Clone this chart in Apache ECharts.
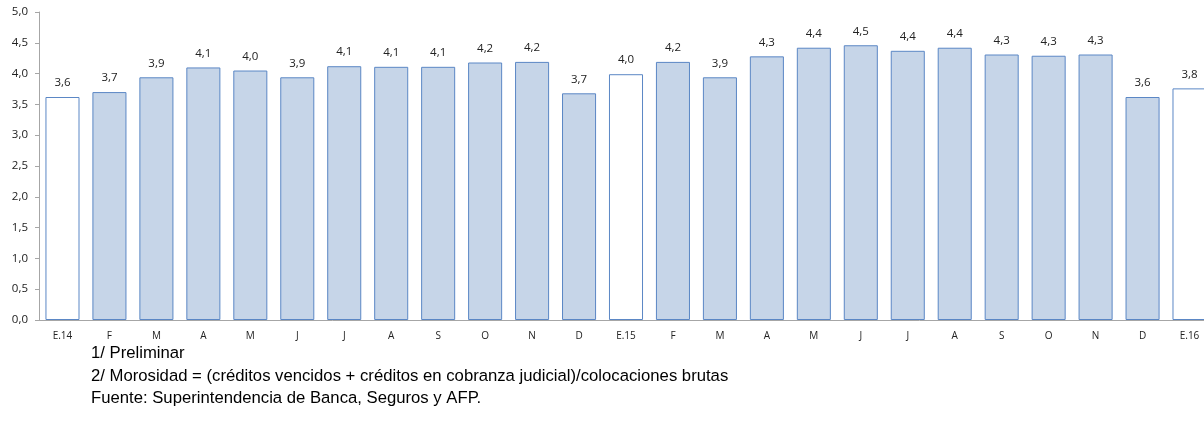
<!DOCTYPE html>
<html><head><meta charset="utf-8">
<script src="https://cdn.jsdelivr.net/npm/echarts@6/dist/echarts.min.js"></script>
<style>html,body{margin:0;padding:0;background:#fff;overflow:hidden;width:1204px;height:425px}#c{width:1213px;height:425px}</style>
</head><body><div id="c"></div>
<script>
var categories = ['E.14','F','M','A','M','J','J','A','S','O','N','D','E.15','F','M','A','M','J','J','A','S','O','N','D','E.16'];
var values = [3.62,3.70,3.94,4.10,4.05,3.94,4.12,4.11,4.11,4.18,4.19,3.68,3.99,4.19,3.94,4.28,4.42,4.46,4.37,4.42,4.31,4.29,4.31,3.62,3.76];
var whiteBars = ['E.14','E.15','E.16'];
var yTicks = [0,0.5,1,1.5,2,2.5,3,3.5,4,4.5,5];
var notes = ['1/ Preliminar','2/ Morosidad = (créditos vencidos + créditos en cobranza judicial)/colocaciones brutas','Fuente: Superintendencia de Banca, Seguros y AFP.'];

var chart = echarts.init(document.getElementById('c'));
var fmt = function(v){return Number(v).toFixed(1).replace('.',',');};
chart.setOption({
  animation:false,
  grid:{left:39,right:0,top:12,bottom:105},
  xAxis:{type:'category',data:categories,
    axisLine:{lineStyle:{color:'#A6A6A6',width:1}},
    axisTick:{show:false},
    axisLabel:{fontFamily:'Open Sans',fontSize:10,color:'#222',margin:11,interval:0}},
  yAxis:{type:'value',min:yTicks[0],max:yTicks[yTicks.length-1],interval:0.5,
    splitLine:{show:false},
    axisLine:{show:true,lineStyle:{color:'#A6A6A6'}},
    axisTick:{show:true,length:4,lineStyle:{color:'#A6A6A6'}},
    axisLabel:{fontFamily:'Open Sans',fontSize:11.5,color:'#222',margin:11,formatter:function(v){return fmt(v);}}},
  series:[{type:'bar',barCategoryGap:'27.5%',
    data:values.map(function(v,i){
      var w = whiteBars.indexOf(categories[i])>=0;
      return {value:v,itemStyle:{color:w?'#FFFFFF':'#C6D5E8',borderColor:'#5B87C5',borderWidth:1}};
    }),
    label:{show:true,position:'top',distance:8,fontFamily:'Open Sans',fontSize:11.5,color:'#222',formatter:function(p){return fmt(p.value);}}
  }],
  graphic:notes.map(function(t,i){
    return {type:'text',left:91,top:345+i*22.5,style:{text:t,fontFamily:'Liberation Sans',fontSize:16.7,fill:'#000'}};
  })
});
</script></body></html>
